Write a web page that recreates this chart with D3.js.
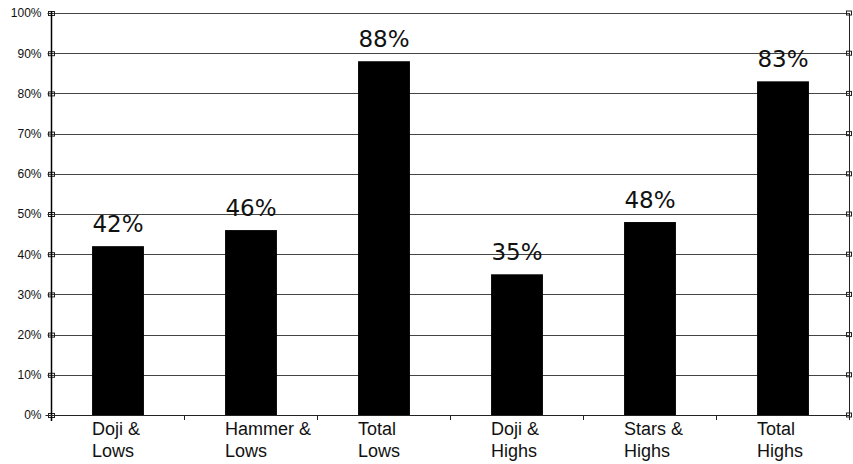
<!DOCTYPE html>
<html><head><meta charset="utf-8">
<script src="https://cdn.jsdelivr.net/npm/d3@7"></script>
<style>body{margin:0;background:#fff}svg{display:block}text{font-family:"Liberation Sans",Arial,sans-serif}</style>
</head><body><svg id="c" width="853" height="464"></svg>
<script>
const categories = [["Doji &","Lows"],["Hammer &","Lows"],["Total","Lows"],["Doji &","Highs"],["Stars &","Highs"],["Total","Highs"]];
const values = [42, 46, 88, 35, 48, 83];
const yTicks = [0,10,20,30,40,50,60,70,80,90,100];

const svg = d3.select("#c");
const L = 51.5, R = 849.5, T = 13, B = 415;
const x = d3.scaleBand().domain(d3.range(categories.length)).range([L, R]).paddingInner(0.61).paddingOuter(0.305);
const xb = d3.scaleBand().domain(d3.range(categories.length)).range([L, R]);
const y = d3.scaleLinear().domain([0, 100]).range([B, T]);

// gridlines
svg.append("g").selectAll("line").data(yTicks.slice(1)).join("line")
  .attr("x1", L).attr("x2", R).attr("y1", d => Math.round(y(d)) + 0.5).attr("y2", d => Math.round(y(d)) + 0.5)
  .attr("stroke", "#444").attr("stroke-width", 1);

// right border
svg.append("line").attr("x1", R).attr("x2", R).attr("y1", T).attr("y2", B).attr("stroke", "#222");

// bars
svg.append("g").selectAll("rect").data(values).join("rect")
  .attr("x", (d, i) => x(i)).attr("width", x.bandwidth())
  .attr("y", d => y(d)).attr("height", d => B - y(d)).attr("fill", "#000");

// value labels
svg.append("g").selectAll("text").data(values).join("text")
  .attr("x", (d, i) => x(i) + x.bandwidth() / 2).attr("y", d => y(d) - 14)
  .attr("text-anchor", "middle").attr("font-size", 23).attr("fill", "#111")
  .style("font-family", "'DejaVu Sans', sans-serif")
  .text(d => d + "%");

// left axis
const yAxis = d3.axisLeft(y).tickValues(yTicks).tickFormat(d => d + "%").tickSize(4).tickPadding(6);
const gy = svg.append("g").attr("transform", `translate(${L},0)`).call(yAxis);
gy.select(".domain").remove();
gy.selectAll(".tick text").attr("font-size", 12).attr("fill", "#111").attr("font-family", "Liberation Sans, Arial, sans-serif");
gy.selectAll(".tick line").attr("stroke", "#222");
gy.selectAll(".tick").append("rect").attr("x", -3).attr("y", -2).attr("width", 6).attr("height", 4)
  .attr("fill", "none").attr("stroke", "#222").attr("stroke-width", 1);
svg.append("line").attr("x1", L).attr("x2", L).attr("y1", T - 2).attr("y2", B + 6).attr("stroke", "#000").attr("stroke-width", 1.5);

// right markers
svg.append("g").selectAll("rect").data(yTicks).join("rect")
  .attr("x", R - 3).attr("y", d => y(d) - 2).attr("width", 5).attr("height", 4)
  .attr("fill", "none").attr("stroke", "#222");

// bottom axis
svg.append("line").attr("x1", L - 6).attr("x2", R).attr("y1", B + 0.5).attr("y2", B + 0.5).attr("stroke", "#222").attr("stroke-width", 1.2);
svg.append("g").selectAll("line").data(d3.range(1, categories.length + 1)).join("line")
  .attr("x1", i => i < categories.length ? xb(i) : R).attr("x2", i => i < categories.length ? xb(i) : R)
  .attr("y1", B).attr("y2", B + 5).attr("stroke", "#222");

// category labels
const cl = svg.append("g").selectAll("text").data(categories).join("text")
  .attr("text-anchor", "start").attr("font-size", 18).attr("fill", "#111");
cl.each(function(d, i) {
  const t = d3.select(this);
  d.forEach((s, k) => t.append("tspan").attr("x", x(i)).attr("y", 435 + k * 22).text(s));
});
</script></body></html>
